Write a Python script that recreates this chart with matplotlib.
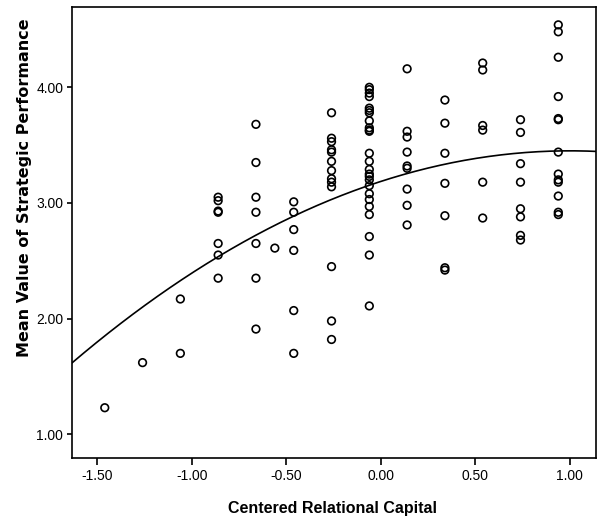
import numpy as np
import matplotlib
matplotlib.use("Agg")
import matplotlib.pyplot as plt

# Column positions (centered relational capital)
x_levels = [-1.46, -1.26, -1.06, -0.86, -0.66, -0.56, -0.46,
            -0.26, -0.06, 0.14, 0.34, 0.54, 0.74, 0.94]

# Mean value of strategic performance for each column
y_by_level = [
    [1.23],
    [1.62],
    [2.17, 1.70],
    [3.05, 3.02, 2.93, 2.92, 2.65, 2.55, 2.35],
    [3.68, 3.35, 3.05, 2.92, 2.65, 2.35, 1.91],
    [2.61],
    [3.01, 2.92, 2.77, 2.59, 2.07, 1.70],
    [3.78, 3.56, 3.53, 3.46, 3.44, 3.36, 3.28, 3.21, 3.18, 3.14, 2.45, 1.98, 1.82],
    [4.00, 3.98, 3.95, 3.92, 3.82, 3.80, 3.78, 3.71, 3.65, 3.63, 3.62, 3.43,
     3.36, 3.29, 3.25, 3.23, 3.20, 3.15, 3.08, 3.03, 2.97, 2.90, 2.71, 2.55, 2.11],
    [4.16, 3.62, 3.57, 3.44, 3.32, 3.30, 3.12, 2.98, 2.81],
    [3.89, 3.69, 3.43, 3.17, 2.89, 2.44, 2.42],
    [4.21, 4.15, 3.67, 3.63, 3.18, 2.87],
    [3.72, 3.61, 3.34, 3.18, 2.95, 2.88, 2.72, 2.68],
    [4.54, 4.48, 4.26, 3.92, 3.73, 3.72, 3.44, 3.25, 3.20, 3.18, 3.06, 2.92, 2.90],
]

# Quadratic fit line (x^2, x, constant)
fit_coef = [-0.264, 0.529, 3.186]

x_ticks = [-1.50, -1.00, -0.50, 0.00, 0.50, 1.00]
y_ticks = [1.00, 2.00, 3.00, 4.00]
x_label = "Centered Relational Capital"
y_label = "Mean Value of Strategic Performance"

xs = np.concatenate([[xv] * len(ys) for xv, ys in zip(x_levels, y_by_level)])
ys = np.concatenate([np.array(v, dtype=float) for v in y_by_level])

plt.rcParams['font.family'] = ['Liberation Sans', 'DejaVu Sans']

W, H = 597, 520
fig = plt.figure(figsize=(W / 100, H / 100), dpi=100)
ax = fig.add_axes([71.7 / W, 62.3 / H, 524.0 / W, 451.0 / H])

ax.scatter(xs, ys, s=30, facecolors='none', edgecolors='black', linewidths=1.2, zorder=3)

xlim = (-1.635, 1.138)
ylim = (0.798, 4.697)
xf = np.linspace(xlim[0], xlim[1], 300)
ax.plot(xf, np.polyval(fit_coef, xf), color='black', linewidth=1.2, zorder=2)

ax.set_xlim(*xlim)
ax.set_ylim(*ylim)
ax.set_xticks(x_ticks)
ax.set_xticklabels([f"{t:.2f}" for t in x_ticks])
ax.set_yticks(y_ticks)
ax.set_yticklabels([f"{t:.2f}" for t in y_ticks])
ax.tick_params(direction='out', width=1.2, labelsize=10, colors='black')
ax.tick_params(axis='x', length=5, pad=3)
ax.tick_params(axis='y', length=3.6, pad=2.5)
for sp in ax.spines.values():
    sp.set_linewidth(1.2)
    sp.set_color('black')

fig.text(333 / W, 1 - 508.5 / H, x_label, fontsize=11.5, fontweight='bold',
         ha='center', va='center')
fig.text(25 / W, 1 - 187.5 / H, y_label, fontsize=11.5, fontweight='bold',
         ha='center', va='center', rotation=90, family=['DejaVu Sans'])

fig.savefig("out.png", dpi=100)
